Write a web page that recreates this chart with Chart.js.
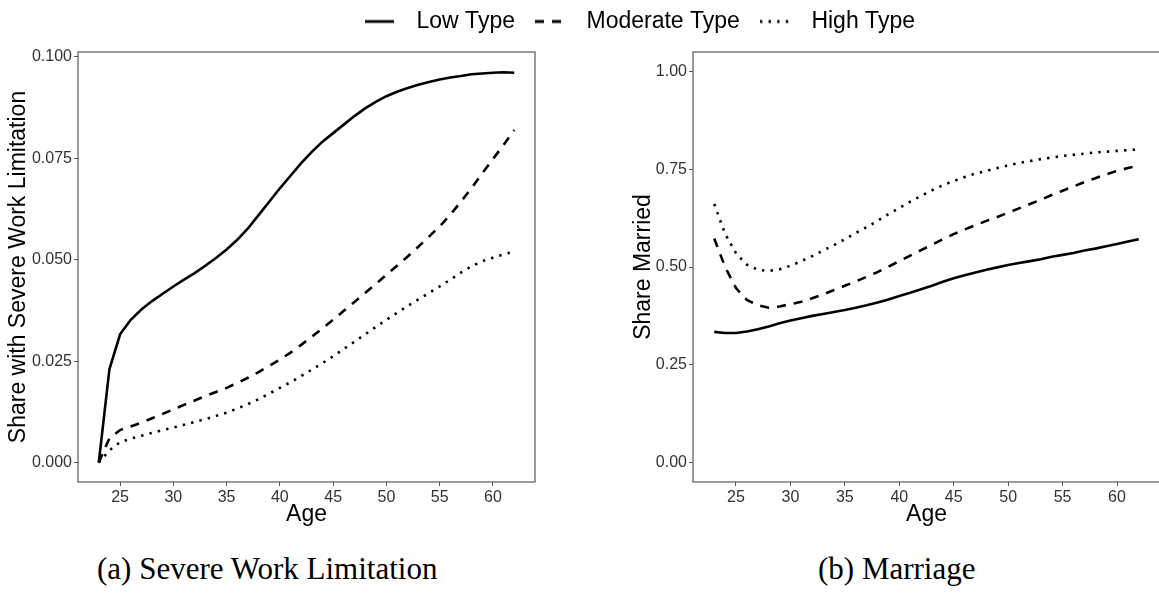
<!DOCTYPE html>
<html>
<head>
<meta charset="utf-8">
<script src="https://cdn.jsdelivr.net/npm/chart.js@4.4.0/dist/chart.umd.min.js"></script>
<style>
  html, body { margin: 0; padding: 0; background: #fff; }
  body { width: 1159px; height: 594px; position: relative; overflow: hidden; }
  canvas { position: absolute; }
  .caption { position: absolute; font-family: "Liberation Serif", serif; font-size: 31px; line-height: 31px; color: #000; white-space: nowrap; }
</style>
</head>
<body>
<canvas id="legend" width="1159" height="200" style="left:0;top:-10px"></canvas>
<canvas id="chartA" width="560" height="528" style="left:0;top:0"></canvas>
<canvas id="chartB" width="570" height="528" style="left:600px;top:0"></canvas>
<div class="caption" style="left:97px;top:553px">(a) Severe Work Limitation</div>
<div class="caption" style="left:818px;top:553px">(b) Marriage</div>
<script>
const ages = [23, 24, 25, 26, 27, 28, 29, 30, 31, 32, 33, 34, 35, 36, 37, 38, 39, 40, 41, 42,
              43, 44, 45, 46, 47, 48, 49, 50, 51, 52, 53, 54, 55, 56, 57, 58, 59, 60, 61, 62];
const seriesNames = ['Low Type', 'Moderate Type', 'High Type'];
const lineDashes = [[], [9, 8], [2.4, 6.2]];

// (a) share with severe work limitation
const workLow = [0.0000, 0.0230, 0.0316, 0.0352, 0.0377, 0.0398, 0.0416, 0.0434, 0.0451, 0.0467,
                 0.0485, 0.0504, 0.0525, 0.0549, 0.0577, 0.0610, 0.0643, 0.0676, 0.0707, 0.0738,
                 0.0766, 0.0791, 0.0812, 0.0833, 0.0854, 0.0873, 0.0889, 0.0903, 0.0914, 0.0923,
                 0.0931, 0.0938, 0.0944, 0.0949, 0.0953, 0.0957, 0.0959, 0.0961, 0.0962, 0.0961];
const workModerate = [0.0000, 0.0060, 0.0080, 0.0089, 0.0098, 0.0109, 0.0120, 0.0131, 0.0142, 0.0153,
                      0.0164, 0.0174, 0.0184, 0.0196, 0.0209, 0.0223, 0.0238, 0.0254, 0.0271, 0.0290,
                      0.0310, 0.0331, 0.0352, 0.0374, 0.0396, 0.0418, 0.0440, 0.0463, 0.0485, 0.0508,
                      0.0532, 0.0557, 0.0582, 0.0611, 0.0643, 0.0677, 0.0713, 0.0748, 0.0783, 0.0820];
const workHigh = [0.0000, 0.0030, 0.0050, 0.0059, 0.0066, 0.0073, 0.0080, 0.0086, 0.0093, 0.0100,
                  0.0107, 0.0115, 0.0123, 0.0133, 0.0144, 0.0156, 0.0170, 0.0184, 0.0198, 0.0213,
                  0.0229, 0.0245, 0.0262, 0.0280, 0.0298, 0.0316, 0.0334, 0.0352, 0.0369, 0.0386,
                  0.0402, 0.0418, 0.0434, 0.0451, 0.0468, 0.0484, 0.0496, 0.0505, 0.0513, 0.0520];

// (b) share married
const marriedLow = [0.334, 0.331, 0.331, 0.335, 0.341, 0.348, 0.356, 0.363, 0.369, 0.375,
                    0.380, 0.385, 0.390, 0.396, 0.402, 0.409, 0.417, 0.426, 0.434, 0.443,
                    0.452, 0.462, 0.471, 0.479, 0.486, 0.493, 0.499, 0.505, 0.510, 0.515,
                    0.520, 0.526, 0.531, 0.536, 0.542, 0.547, 0.553, 0.559, 0.565, 0.571];
const marriedModerate = [0.573, 0.500, 0.446, 0.416, 0.402, 0.396, 0.399, 0.405, 0.411, 0.420,
                         0.430, 0.441, 0.452, 0.463, 0.475, 0.487, 0.501, 0.515, 0.529, 0.543,
                         0.557, 0.571, 0.584, 0.596, 0.607, 0.618, 0.628, 0.639, 0.650, 0.661,
                         0.672, 0.684, 0.695, 0.706, 0.717, 0.727, 0.737, 0.746, 0.753, 0.760];
const marriedHigh = [0.661, 0.585, 0.535, 0.506, 0.493, 0.490, 0.494, 0.503, 0.515, 0.528,
                     0.542, 0.556, 0.571, 0.587, 0.602, 0.618, 0.635, 0.651, 0.667, 0.682,
                     0.696, 0.709, 0.720, 0.730, 0.739, 0.746, 0.753, 0.760, 0.766, 0.771,
                     0.776, 0.780, 0.784, 0.787, 0.790, 0.793, 0.795, 0.797, 0.799, 0.801];

const ageTicks = [25, 30, 35, 40, 45, 50, 55, 60];
const workTicks = [0, 0.025, 0.05, 0.075, 0.1];
const marriedTicks = [0, 0.25, 0.5, 0.75, 1];

const sans = 'Liberation Sans';

// box round the plot panel, like the ggplot panel border
const panelBorder = {
    id: 'panelBorder',
    afterDraw(chart) {
        const { ctx, chartArea: a } = chart;
        ctx.save();
        ctx.strokeStyle = '#666';
        ctx.lineWidth = 1.3;
        ctx.strokeRect(a.left, a.top, a.right - a.left, a.bottom - a.top);
        ctx.restore();
    }
};

function makePanel(id, yTitle, values, yMin, yMax, yTicks, digits, yWidth, titlePad, rightPad) {
    new Chart(id, {
        type: 'line',
        data: {
            datasets: seriesNames.map((name, i) => ({
                label: name,
                data: ages.map((a, j) => ({ x: a, y: values[i][j] })),
                borderColor: '#000',
                borderWidth: 2.6,
                borderDash: lineDashes[i],
                borderCapStyle: 'butt',
                pointRadius: 0,
                tension: 0,
                fill: false
            }))
        },
        options: {
            responsive: false,
            animation: false,
            devicePixelRatio: 1,
            layout: { padding: { top: 52, right: rightPad, left: 0, bottom: 0 } },
            plugins: { legend: { display: false }, tooltip: { enabled: false } },
            scales: {
                x: {
                    type: 'linear',
                    min: 21.05,
                    max: 63.95,
                    afterBuildTicks: s => { s.ticks = ageTicks.map(v => ({ value: v })); },
                    afterFit: s => { s.height = 46; },
                    border: { display: false },
                    grid: { drawOnChartArea: false, tickLength: 4, color: '#555' },
                    ticks: { color: '#333', font: { family: sans, size: 16 }, padding: 2, maxRotation: 0, autoSkip: false },
                    title: { display: true, text: 'Age', color: '#000', font: { family: sans, size: 23 }, padding: 0 }
                },
                y: {
                    min: yMin,
                    max: yMax,
                    afterBuildTicks: s => { s.ticks = yTicks.map(v => ({ value: v })); },
                    afterFit: s => { s.width = yWidth; },
                    border: { display: false },
                    grid: { drawOnChartArea: false, tickLength: 4, color: '#555' },
                    ticks: { color: '#333', font: { family: sans, size: 16 }, padding: 2, callback: v => v.toFixed(digits) },
                    title: { display: true, text: yTitle, color: '#000', font: { family: sans, size: 23 }, padding: { top: titlePad, bottom: 0 } }
                }
            }
        },
        plugins: [panelBorder]
    });
}

makePanel('chartA', 'Share with Severe Work Limitation', [workLow, workModerate, workHigh],
          -0.0048, 0.1012, workTicks, 3, 78, 5, 25);
makePanel('chartB', 'Share Married', [marriedLow, marriedModerate, marriedHigh],
          -0.05, 1.05, marriedTicks, 2, 93, 30, 10);

// small line sample for the shared legend
function swatch(dash) {
    const c = document.createElement('canvas');
    c.width = 40;
    c.height = 6;
    const g = c.getContext('2d');
    g.strokeStyle = '#000';
    g.lineWidth = 2.8;
    g.setLineDash(dash);
    g.beginPath();
    g.moveTo(0, 3);
    g.lineTo(29, 3);
    g.stroke();
    return c;
}

new Chart('legend', {
    type: 'line',
    data: {
        datasets: seriesNames.map((name, i) => ({
            label: name, data: [], borderColor: '#000', borderDash: lineDashes[i]
        }))
    },
    options: {
        responsive: false,
        animation: false,
        devicePixelRatio: 1,
        layout: { padding: { left: 121 } },
        scales: { x: { display: false }, y: { display: false } },
        plugins: {
            tooltip: { enabled: false },
            legend: {
                position: 'top',
                labels: {
                    usePointStyle: true,
                    pointStyleWidth: 40,
                    padding: 20,
                    color: '#000',
                    font: { family: sans, size: 23 },
                    generateLabels: chart => chart.data.datasets.map((ds, i) => ({
                        text: ds.label,
                        pointStyle: swatch(ds.borderDash),
                        fillStyle: '#000',
                        strokeStyle: '#000',
                        fontColor: '#000',
                        lineWidth: 0,
                        hidden: false,
                        datasetIndex: i
                    }))
                }
            }
        }
    }
});
</script>
</body>
</html>
